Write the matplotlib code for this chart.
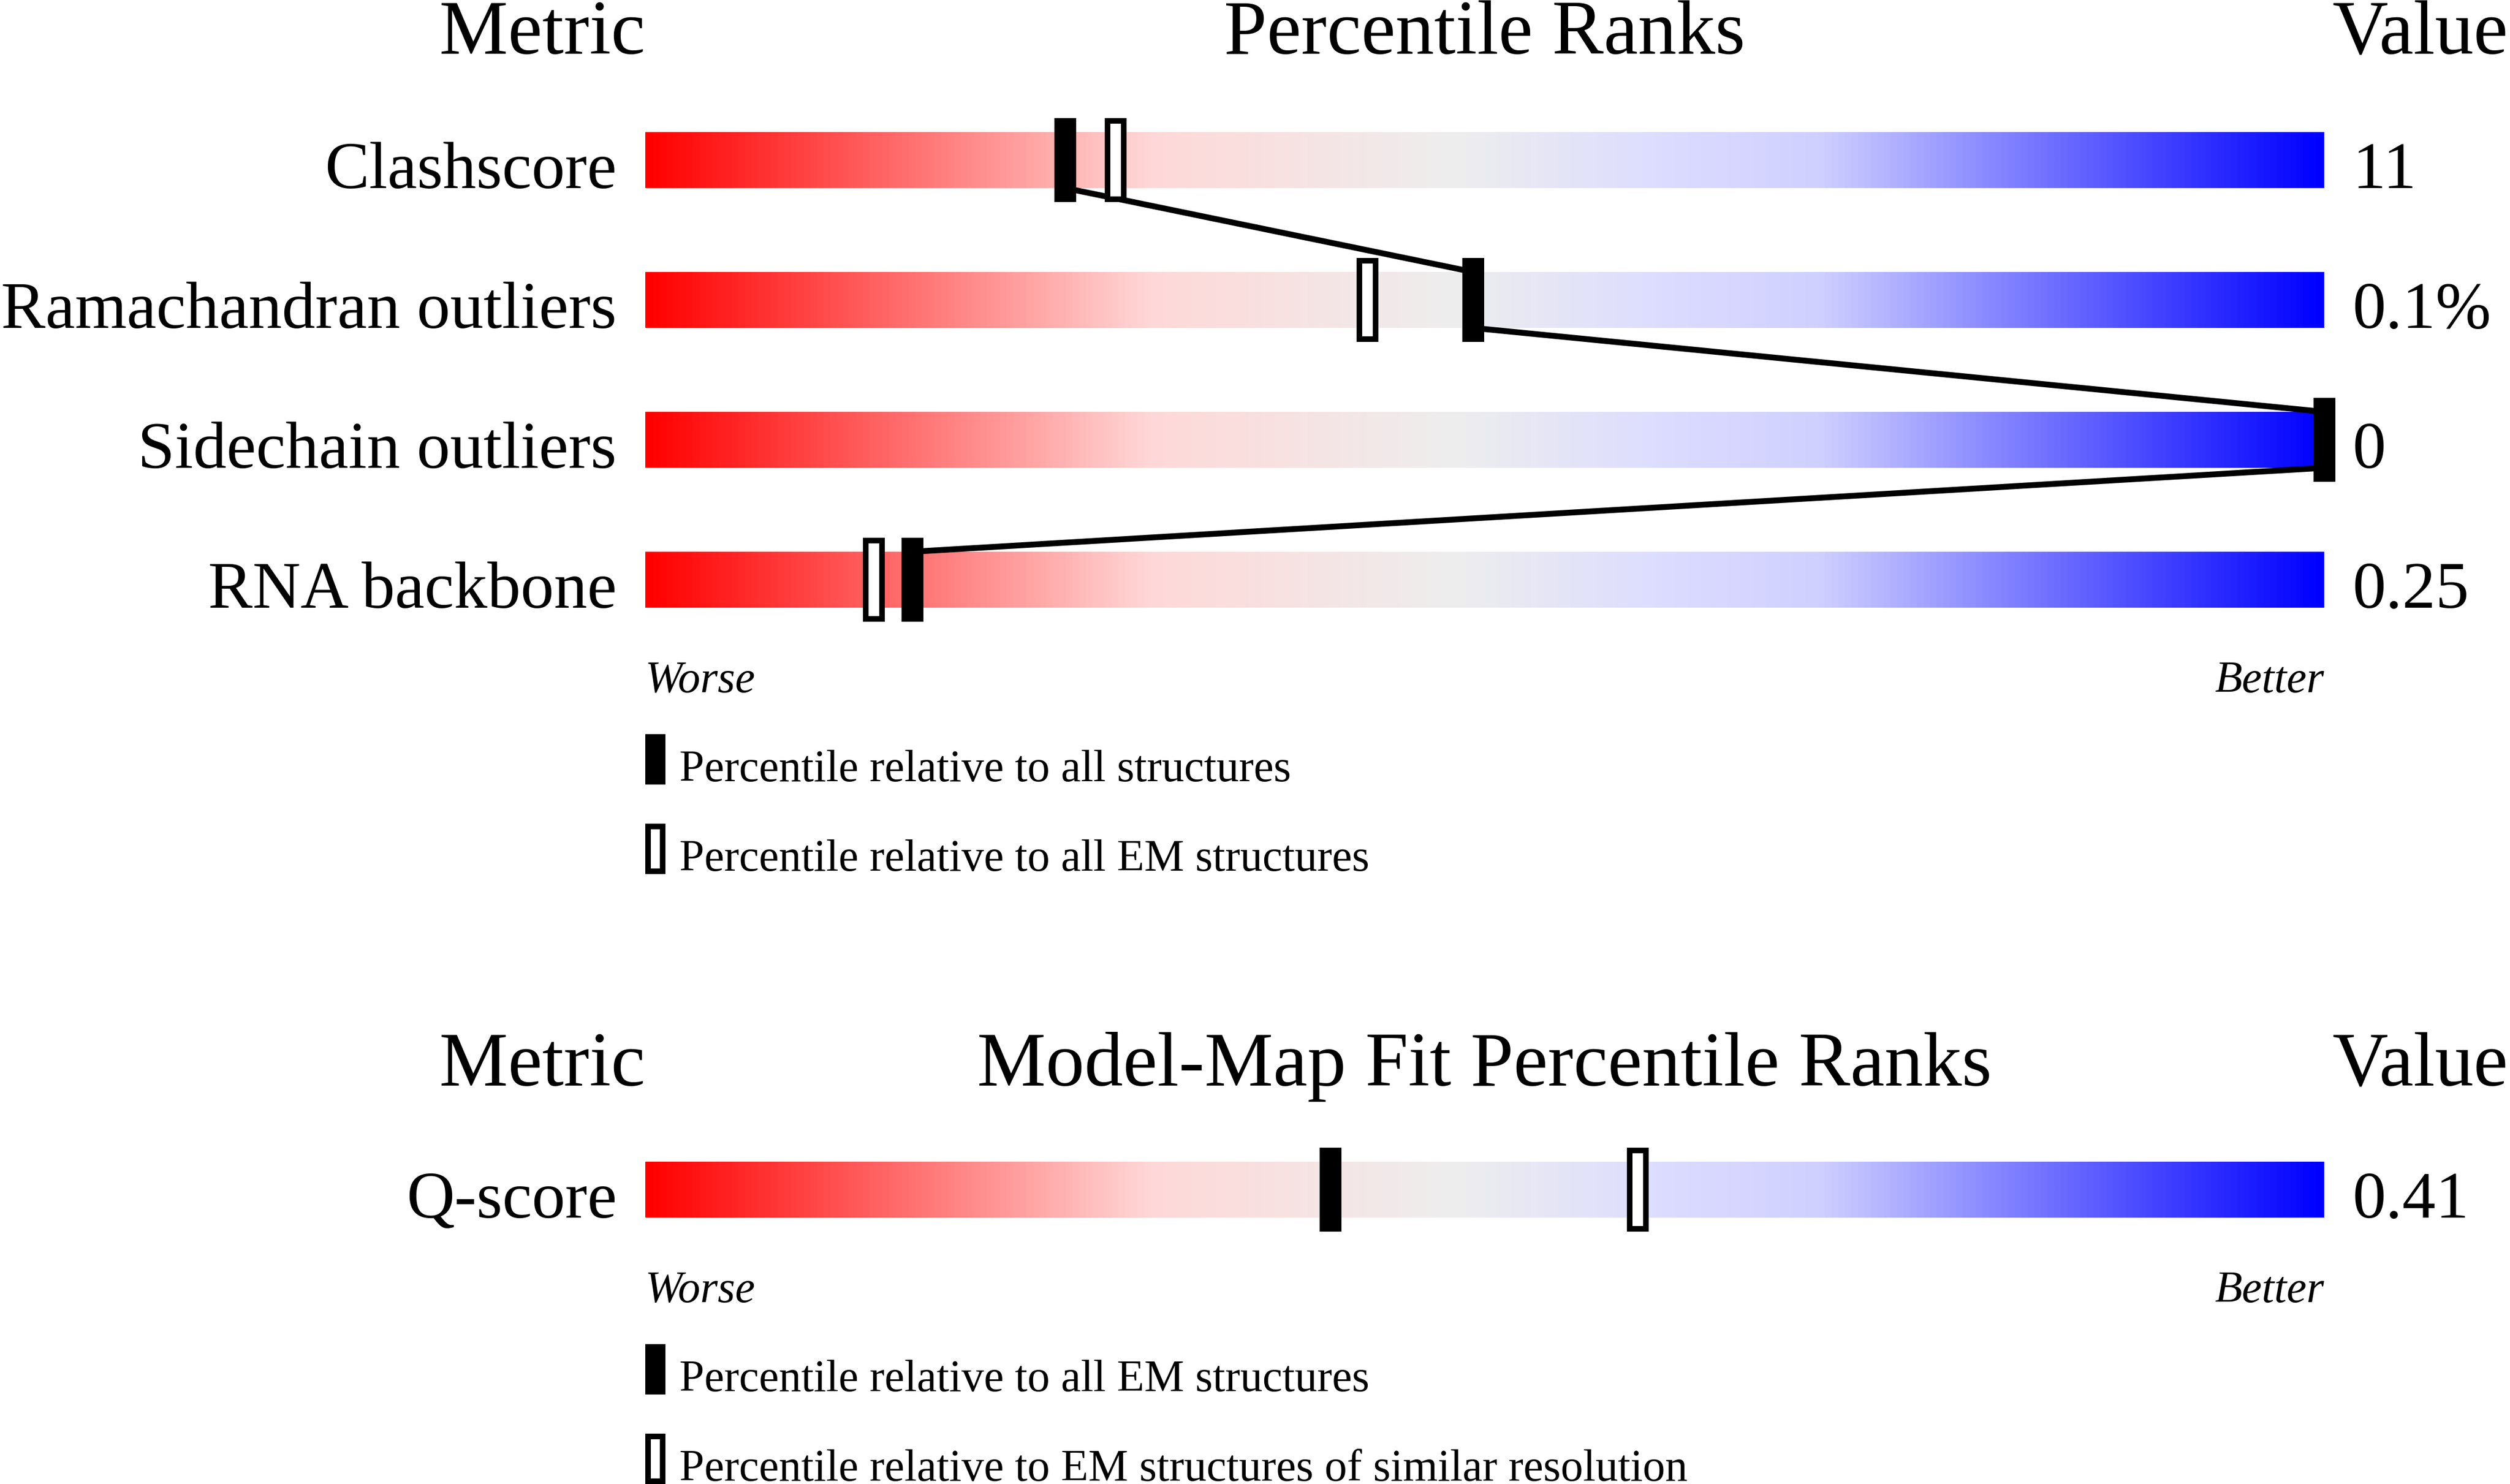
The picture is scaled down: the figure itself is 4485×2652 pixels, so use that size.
import matplotlib
matplotlib.use("Agg")
import matplotlib.pyplot as plt
from matplotlib.colors import LinearSegmentedColormap
from matplotlib.patches import Rectangle
import numpy as np

# ---- data ----
metrics = ["Clashscore", "Ramachandran outliers", "Sidechain outliers", "RNA backbone"]
values = ["11", "0.1%", "0", "0.25"]
pct_all = [25.0, 49.3, 100.0, 15.9]      # filled marker: vs all structures
pct_em = [28.0, 43.0, 100.0, 13.6]       # hollow marker: vs all EM structures

fit_metrics = ["Q-score"]
fit_values = ["0.41"]
fit_pct_em = [40.8]                      # filled: vs all EM structures
fit_pct_res = [59.1]                     # hollow: vs EM structures of similar resolution

legend_top = ["Percentile relative to all structures",
              "Percentile relative to all EM structures"]
legend_fit = ["Percentile relative to all EM structures",
              "Percentile relative to EM structures of similar resolution"]

# ---- layout (pixels, figure is 4485 x 2652) ----
W, H, DPI = 4485, 2652, 300
X0, PX = 1153, 30.0          # bar starts at pixel 1153, 30 px per percentile
BAR_H = 100
MARK_W, MARK_H = 39, 150
BORDER = 10
FONT = "Liberation Serif"
PT = 72.0 / DPI              # points per pixel

slider = LinearSegmentedColormap.from_list("slider", [
    (0.00, (1.0, 0.0, 0.0)),
    (0.30, (1.0, 216 / 255, 216 / 255)),
    (0.48, (238 / 255, 238 / 255, 238 / 255)),
    (0.60, (221 / 255, 221 / 255, 1.0)),
    (0.70, (208 / 255, 208 / 255, 1.0)),
    (1.00, (0.0, 0.0, 1.0)),
])

fig = plt.figure(figsize=(W / DPI, H / DPI), dpi=DPI)
ax = fig.add_axes([0, 0, 1, 1])
ax.set_xlim(-X0 / PX, (W - X0) / PX)
ax.set_ylim(H, 0)
ax.axis("off")

HEAD = 138 * PT
LAB = 119 * PT
SMALL = 80 * PT
grad = np.linspace(0, 1, 512).reshape(1, -1)
mw = MARK_W / PX


def marker(p, yc, filled):
    if filled:
        ax.add_patch(Rectangle((p - mw / 2, yc - MARK_H / 2), mw, MARK_H,
                               facecolor="black", edgecolor="none", zorder=5))
    else:
        iw = (MARK_W - BORDER) / PX
        ih = MARK_H - BORDER
        ax.add_patch(Rectangle((p - iw / 2, yc - ih / 2), iw, ih, facecolor="white",
                               edgecolor="black", linewidth=BORDER * PT, zorder=4))


def section(header, names, vals, filled_p, hollow_p, legend, top, head_base, link):
    ax.text(0, head_base, "Metric", ha="right", va="baseline", fontsize=HEAD, family=FONT)
    ax.text(50, head_base, header, ha="center", va="baseline", fontsize=HEAD, family=FONT)
    ax.text((W - X0) / PX - 0.1, head_base, "Value", ha="right", va="baseline",
            fontsize=HEAD, family=FONT)
    tops = [top + 250 * i for i in range(len(names))]
    for i, (n, v, t) in enumerate(zip(names, vals, tops)):
        ax.imshow(grad, cmap=slider, aspect="auto", extent=[0, 100, t + BAR_H, t],
                  interpolation="bilinear", zorder=1)
        ax.text(-1.7, t + BAR_H, n, ha="right", va="baseline", fontsize=LAB, family=FONT)
        ax.text(101.7, t + BAR_H, v, ha="left", va="baseline", fontsize=LAB, family=FONT)
        marker(hollow_p[i], t + BAR_H / 2, False)
        marker(filled_p[i], t + BAR_H / 2, True)
        if link and i + 1 < len(names):
            ax.plot([filled_p[i], filled_p[i + 1]], [t + BAR_H, tops[i + 1]],
                    color="black", linewidth=10.5 * PT, zorder=3, solid_capstyle="butt")
    bottom = tops[-1] + BAR_H
    ax.text(0, bottom + 151, "Worse", ha="left", va="baseline", fontsize=SMALL,
            family=FONT, style="italic")
    ax.text(100, bottom + 151, "Better", ha="right", va="baseline", fontsize=SMALL,
            family=FONT, style="italic")
    for k, txt in enumerate(legend):
        ly = bottom + 226 + 160 * k
        if k == 0:
            ax.add_patch(Rectangle((0, ly), 36 / PX, 90, facecolor="black",
                                   edgecolor="none", zorder=5))
        else:
            ax.add_patch(Rectangle((BORDER / 2 / PX, ly + BORDER / 2), (36 - BORDER) / PX,
                                   90 - BORDER, facecolor="white", edgecolor="black",
                                   linewidth=BORDER * PT, zorder=5))
        ax.text(61 / PX, ly + 84, txt, ha="left", va="baseline", fontsize=SMALL, family=FONT)


section("Percentile Ranks", metrics, values, pct_all, pct_em, legend_top,
        top=236, head_base=96, link=True)
section("Model-Map Fit Percentile Ranks", fit_metrics, fit_values, fit_pct_em, fit_pct_res,
        legend_fit, top=2076, head_base=1940, link=False)

fig.savefig("out.png", dpi=DPI, facecolor="white")
